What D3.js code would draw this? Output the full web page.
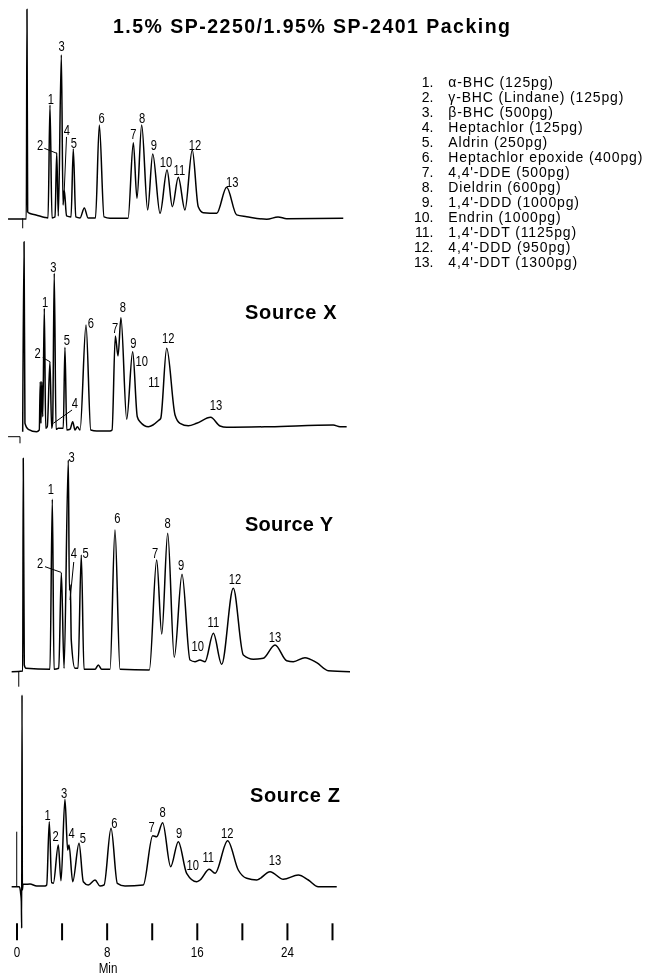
<!DOCTYPE html>
<html>
<head>
<meta charset="utf-8">
<script src="https://cdn.jsdelivr.net/npm/d3@7"></script>
<style>
    body { margin: 0; background: #fff; }
    svg { display: block; }
    .trace { fill: none; stroke: #000; stroke-width: 1.5px; stroke-linejoin: round; }
    .leader, .inject { fill: none; stroke: #000; stroke-width: 1px; }
    .peak-label { font-family: 'Liberation Sans', Arial, sans-serif; font-size: 14px; text-anchor: middle; fill: #000; }
    .source-label { font-family: 'Liberation Sans', Arial, sans-serif; font-weight: bold; font-size: 20px; fill: #000; }
    .title { font-family: 'Liberation Sans', Arial, sans-serif; font-weight: bold; font-size: 19.5px; fill: #000; }
    .legend text { font-family: 'Liberation Sans', Arial, sans-serif; font-size: 14px; fill: #000; }
    .legend .legend-name { letter-spacing: 0.85px; }
    .x-axis line { stroke: #000; stroke-width: 2px; }
    .x-axis text, .axis-title { font-family: 'Liberation Sans', Arial, sans-serif; font-size: 14.5px; fill: #000; }
</style>
</head>
<body>
<svg id="chart" width="647" height="976"></svg>
<script>
// ---- data ----
const chartTitle = '1.5% SP-2250/1.95% SP-2401 Packing';
const compounds = [
    'α-BHC (125pg)', 'γ-BHC (Lindane) (125pg)', 'β-BHC (500pg)', 'Heptachlor (125pg)',
    'Aldrin (250pg)', 'Heptachlor epoxide (400pg)', "4,4'-DDE (500pg)", 'Dieldrin (600pg)',
    "1,4'-DDD (1000pg)", 'Endrin (1000pg)', "1,4'-DDT (1125pg)", "4,4'-DDD (950pg)", "4,4'-DDT (1300pg)"
];
const sourceNames = ['', 'Source X', 'Source Y', 'Source Z'];
const axisTicks = [0, 4, 8, 12, 16, 20, 24, 28];
const axisLabels = [0, 8, 16, 24];
const axisTitle = 'Min';

// traces: [minutes, response]
const traceStandard = [
    [-0.75, -0.3], [0.87, -0.3], [0.93, 104.5], [0.99, 3.2], [1.20, 2.4], [1.73, 1.7], [2.53, 0.4],
    [2.80, 0.2], [2.97, 56.7], [3.15, 0.2], [3.42, 0.7], [3.57, 32.8], [3.71, 1.2], [3.98, 81.7],
    [4.13, 6.7], [4.24, 14.2], [4.44, 1.2], [4.84, 0.7], [5.04, 34.7], [5.26, 0.7], [5.64, 0.2],
    [6.02, 5.2], [6.35, 0.2], [7.01, 0.2], [7.35, 46.7], [7.77, 0.7], [8.30, 0], [9.90, 0],
    [10.37, 37.8], [10.69, 10], [11.11, 46.7], [11.64, 4.2], [12.09, 32.2], [12.74, 2.5],
    [13.36, 24.2], [13.83, 5.8], [14.36, 20.5], [14.95, 4.2], [15.60, 34.2], [16.13, 5.8],
    [16.58, 2.8], [17.77, 2.5], [18.65, 15.5], [19.54, 1.7], [20.43, 0.8], [22.21, -0.5],
    [23.21, 0.7], [23.98, -0.2], [29.0, 0]
];
const traceSourceX = [
    [0.55, -0.1], [0.67, 94.9], [0.75, 4.1], [1.05, 1.1], [1.79, -0.1], [2.02, 0.75], [2.11, 24.9],
    [2.17, 4.1], [2.24, 24.9], [2.33, 7.4], [2.47, 61.6], [2.59, 1.6], [2.73, 2.4], [2.97, 34.9],
    [3.12, 1.6], [3.21, 4.9], [3.35, 79.1], [3.51, 1.1], [3.71, 1.6], [4.15, 1.6], [4.30, 42.1],
    [4.46, 0.75], [4.75, 1.1], [4.99, 4.9], [5.19, 0.75], [5.40, 2.4], [5.64, 0.75], [6.17, 53.3],
    [6.59, 0.75], [7.12, 0.25], [8.30, 0.25], [8.48, 0.75], [8.77, 47.8], [9.01, 37.8], [9.27, 56.9],
    [9.78, 6.1], [10.31, 39.9], [10.72, 7.4], [10.96, 4.9], [11.70, 2.4], [12.11, 3.25], [12.58, 5.4],
    [12.80, 6.6], [13.33, 41.6], [14.07, 8.25], [14.51, 4.1], [15.25, 2.9], [15.99, 4.1], [17.23, 7.1],
    [18.06, 2.75], [18.65, 2.1], [22.50, 2.4], [28.11, 3.25], [28.71, 2.4], [29.30, 2.4]
];
const traceSourceY = [
    [-0.43, -1.1], [0.55, -0.75], [0.60, 105.6], [0.69, 2.25], [0.84, 0.6], [2.97, 0.1], [3.18, 85.1],
    [3.33, 0.1], [3.75, 0.6], [3.98, 48.4], [4.22, 0.6], [4.60, 104.75], [4.69, 39.75], [4.78, 42.25],
    [4.86, 14.75], [5.19, 0.6], [5.46, 0.6], [5.75, 57.25], [5.99, 0.1], [6.97, 0.1], [7.26, 2.25],
    [7.56, 0.1], [8.30, 0.1], [8.74, 69.75], [9.19, 0.1], [11.79, -0.25], [12.44, 54.75],
    [12.89, 17.75], [13.42, 68.1], [14.00, 6.1], [14.69, 47.6], [15.40, 4.75], [15.84, 3.9],
    [16.28, 4.75], [16.73, 3.9], [17.47, 18.1], [18.21, 2.6], [19.24, 40.6], [20.13, 7.25],
    [21.02, 5.1], [21.90, 5.6], [22.94, 12.25], [23.98, 4.4], [24.57, 3.9], [25.60, 5.9],
    [26.64, 3.4], [27.67, -0.6], [29.60, -1.1]
];
const traceSourceZ = [
    [-0.43, 0], [0.25, 0], [0.37, -3.3], [0.43, -7.5], [0.46, -20.8], [0.49, 95.85], [0.52, -1.65],
    [0.58, 1.35], [0.75, 1.2], [1.20, 1.35], [1.79, 0.35], [2.53, 0.35], [2.68, 0.85], [2.91, 32.5],
    [3.12, 2], [3.27, 1.7], [3.71, 20.85], [3.95, 3], [4.30, 43.7], [4.54, 18.35], [4.66, 20.85],
    [4.99, 2.5], [5.55, 21.7], [5.93, 2.5], [6.37, 0.85], [6.97, 3.35], [7.41, 0.35], [7.77, 0.85],
    [8.39, 29.2], [8.95, 1.7], [9.63, 0.35], [11.25, 0.85], [12.09, 25.5], [12.44, 25], [12.97, 32],
    [13.68, 10], [14.36, 22.5], [15.10, 6.7], [15.99, 2.5], [16.29, 3.35], [17.11, 8.7], [17.62, 6.7],
    [18.74, 23], [19.68, 8.35], [20.43, 4.2], [21.32, 3.35], [22.50, 7.5], [23.68, 3.7], [25.01, 5.85],
    [25.90, 3.35], [26.78, 0], [28.42, 0]
];

// peak number labels: [peak, minutes, response]
const labelsStandard = [
    ['1', 3.04, 57.2], ['2', 2.09, 34.2], ['3', 4.01, 83.8], ['4', 4.46, 41.7], ['5', 5.10, 35],
    ['6', 7.56, 47.8], ['7', 10.37, 39.7], ['8', 11.14, 47.8], ['9', 12.20, 34.2], ['10', 13.27, 25.5],
    ['11', 14.45, 21.7], ['12', 15.84, 34.2], ['13', 19.15, 15.8]
];
const labelsSourceX = [
    ['1', 2.53, 62.4], ['2', 1.88, 36.6], ['3', 3.27, 79.9], ['4', 5.19, 11.6], ['5', 4.46, 43.25],
    ['6', 6.59, 51.6], ['7', 8.74, 49.1], ['8', 9.43, 59.6], ['9', 10.37, 41.6], ['10', 11.11, 32.9],
    ['11', 12.20, 22.4], ['12', 13.47, 44.1], ['13', 17.71, 10.75]
];
const labelsSourceY = [
    ['1', 3.04, 87.6], ['2', 2.09, 50.6], ['3', 4.90, 103.9], ['4', 5.10, 55.75], ['5', 6.14, 55.6],
    ['6', 8.95, 73.1], ['7', 12.29, 55.6], ['8', 13.42, 70.6], ['9', 14.60, 49.75], ['10', 16.08, 9.25],
    ['11', 17.47, 21.4], ['12', 19.39, 42.6], ['13', 22.94, 13.9]
];
const labelsSourceZ = [
    ['1', 2.77, 33.35], ['2', 3.48, 22.85], ['3', 4.22, 44.2], ['4', 4.90, 24.5], ['5', 5.88, 21.7],
    ['6', 8.68, 29.2], ['7', 12.00, 27.5], ['8', 12.97, 35], ['9', 14.42, 24.2], ['10', 15.64, 8.35],
    ['11', 17.02, 12.5], ['12', 18.71, 24.2], ['13', 22.94, 10.85]
];

// leader lines from a label to its peak: [[min, resp], [min, resp]]
const leadersStandard = [[[2.47, 35], [3.57, 32.5]], [[4.44, 40.7], [4.24, 14.2]]];
const leadersSourceX = [[[2.33, 36.9], [2.97, 34.9]], [[4.93, 10.75], [3.27, 4.1]]];
const leadersSourceY = [[[2.53, 51.4], [3.95, 48.6]], [[5.08, 53.75], [4.75, 34.75]]];
const leadersSourceZ = [];

// injection marks under the start of each trace
const injectStandard = [[0.55, 0], [0.55, -5]];
const injectSourceX = [[-0.75, -2.6], [0.31, -2.6], [0.31, -5.9]];
const injectSourceY = [[0.2, -1.1], [0.2, -8.6]];
const injectSourceZ = [[0.02, 0], [0.02, 27.5]];

// ---- layout ----
const layout = {
    width: 647,
    height: 976,
    plotLeft: 16.5,
    plotRight: 332,
    panelBaselines: [218.3, 431.5, 669.5, 886.7],
    unitHeight: 2,
    narrow: 0.8,   // no condensed face installed, so squeeze the small numbers
    namePos: [null, [245, 319.3, 91.7], [245, 531, 88], [250, 801.7, 90]],
    title: {x: 113, y: 33.3, length: 397},
    legend: {numX: 433.5, textX: 448.3, top: 86.7, step: 15.05},
    axisY: 923.3,
    axisTitle: {x: 108, y: 972.5}
};

class ChromatogramPanel {

    /**
     * One trace with its peak numbers
     */
    constructor(_config, _data) {
        this.config = {
            parentElement: _config.parentElement,
            xScale: _config.xScale,
            baseline: _config.baseline,
            unitHeight: _config.unitHeight || 2,
            narrow: _config.narrow || 1,
            name: _config.name || '',
            namePos: _config.namePos
        };
        this.data = _data;
        this.initVis();
    }

    initVis() {
        let vis = this;

        // response 0..100 sits on the panel baseline
        vis.yScale = d3.scaleLinear()
            .domain([0, 100])
            .range([vis.config.baseline, vis.config.baseline - 100 * vis.config.unitHeight]);

        vis.chart = vis.config.parentElement.append('g').attr('class', 'panel');

        vis.line = d3.line()
            .x(d => vis.config.xScale(d[0]))
            .y(d => vis.yScale(d[1]))
            .curve(d3.curveMonotoneX);

        vis.straight = d3.line()
            .x(d => vis.config.xScale(d[0]))
            .y(d => vis.yScale(d[1]));

        vis.renderVis();
    }

    renderVis() {
        let vis = this;

        vis.chart.append('path')
            .attr('class', 'inject')
            .attr('d', vis.straight(vis.data.inject));

        vis.chart.append('path')
            .datum(vis.data.trace)
            .attr('class', 'trace')
            .attr('d', vis.line);

        vis.chart.selectAll('.leader')
                .data(vis.data.leaders)
            .join('path')
                .attr('class', 'leader')
                .attr('d', d => vis.straight(d));

        vis.chart.selectAll('.peak-label')
                .data(vis.data.labels)
            .join('text')
                .attr('class', 'peak-label')
                .attr('transform', d => `translate(${vis.config.xScale(d[1])},${vis.yScale(d[2])}) scale(${vis.config.narrow},1)`)
                .text(d => d[0]);

        if (vis.config.name) {
            const p = vis.config.namePos;
            vis.chart.append('text')
                .attr('class', 'source-label')
                .attr('x', p[0])
                .attr('y', p[1])
                .attr('textLength', p[2])
                .attr('lengthAdjust', 'spacing')
                .text(vis.config.name);
        }
    }
}

const svgRoot = d3.select('#chart');

// plain black print: drop the colour fringes of subpixel text
svgRoot.append('defs').append('filter')
        .attr('id', 'mono')
        .attr('filterUnits', 'userSpaceOnUse')
        .attr('x', 0).attr('y', 0)
        .attr('width', layout.width).attr('height', layout.height)
    .append('feColorMatrix')
        .attr('type', 'saturate')
        .attr('values', 0);

const svg = svgRoot.append('g').attr('filter', 'url(#mono)');

const xScale = d3.scaleLinear()
    .domain([0, 28])
    .range([layout.plotLeft, layout.plotRight]);

const panels = [
    {trace: traceStandard, labels: labelsStandard, leaders: leadersStandard, inject: injectStandard},
    {trace: traceSourceX, labels: labelsSourceX, leaders: leadersSourceX, inject: injectSourceX},
    {trace: traceSourceY, labels: labelsSourceY, leaders: leadersSourceY, inject: injectSourceY},
    {trace: traceSourceZ, labels: labelsSourceZ, leaders: leadersSourceZ, inject: injectSourceZ}
];

panels.forEach((p, i) => {
    new ChromatogramPanel({
        parentElement: svg,
        xScale: xScale,
        baseline: layout.panelBaselines[i],
        unitHeight: layout.unitHeight,
        narrow: layout.narrow,
        name: sourceNames[i],
        namePos: layout.namePos[i]
    }, p);
});

// title
svg.append('text')
    .attr('class', 'title')
    .attr('x', layout.title.x)
    .attr('y', layout.title.y)
    .attr('textLength', layout.title.length)
    .attr('lengthAdjust', 'spacing')
    .text(chartTitle);

// compound list
const legend = svg.append('g').attr('class', 'legend');
legend.selectAll('.legend-num')
        .data(compounds)
    .join('text')
        .attr('class', 'legend-num')
        .attr('x', layout.legend.numX)
        .attr('y', (d, i) => layout.legend.top + i * layout.legend.step)
        .attr('text-anchor', 'end')
        .text((d, i) => (i + 1) + '.');
legend.selectAll('.legend-name')
        .data(compounds)
    .join('text')
        .attr('class', 'legend-name')
        .attr('x', layout.legend.textX)
        .attr('y', (d, i) => layout.legend.top + i * layout.legend.step)
        .text(d => d);

// time axis: bare tick marks, every other one labelled
const xAxis = d3.axisBottom(xScale)
    .tickValues(axisTicks)
    .tickSize(17)
    .tickPadding(6.5)
    .tickFormat(d => axisLabels.includes(d) ? d : '');

svg.append('g')
    .attr('class', 'x-axis')
    .attr('transform', `translate(0,${layout.axisY})`)
    .call(xAxis)
    .call(g => g.select('.domain').remove())
    .call(g => g.selectAll('text').attr('transform', `scale(${layout.narrow},1)`));

svg.append('text')
    .attr('class', 'axis-title')
    .attr('transform', `translate(${layout.axisTitle.x},${layout.axisTitle.y}) scale(${layout.narrow},1)`)
    .attr('text-anchor', 'middle')
    .text(axisTitle);
</script>
</body>
</html>
